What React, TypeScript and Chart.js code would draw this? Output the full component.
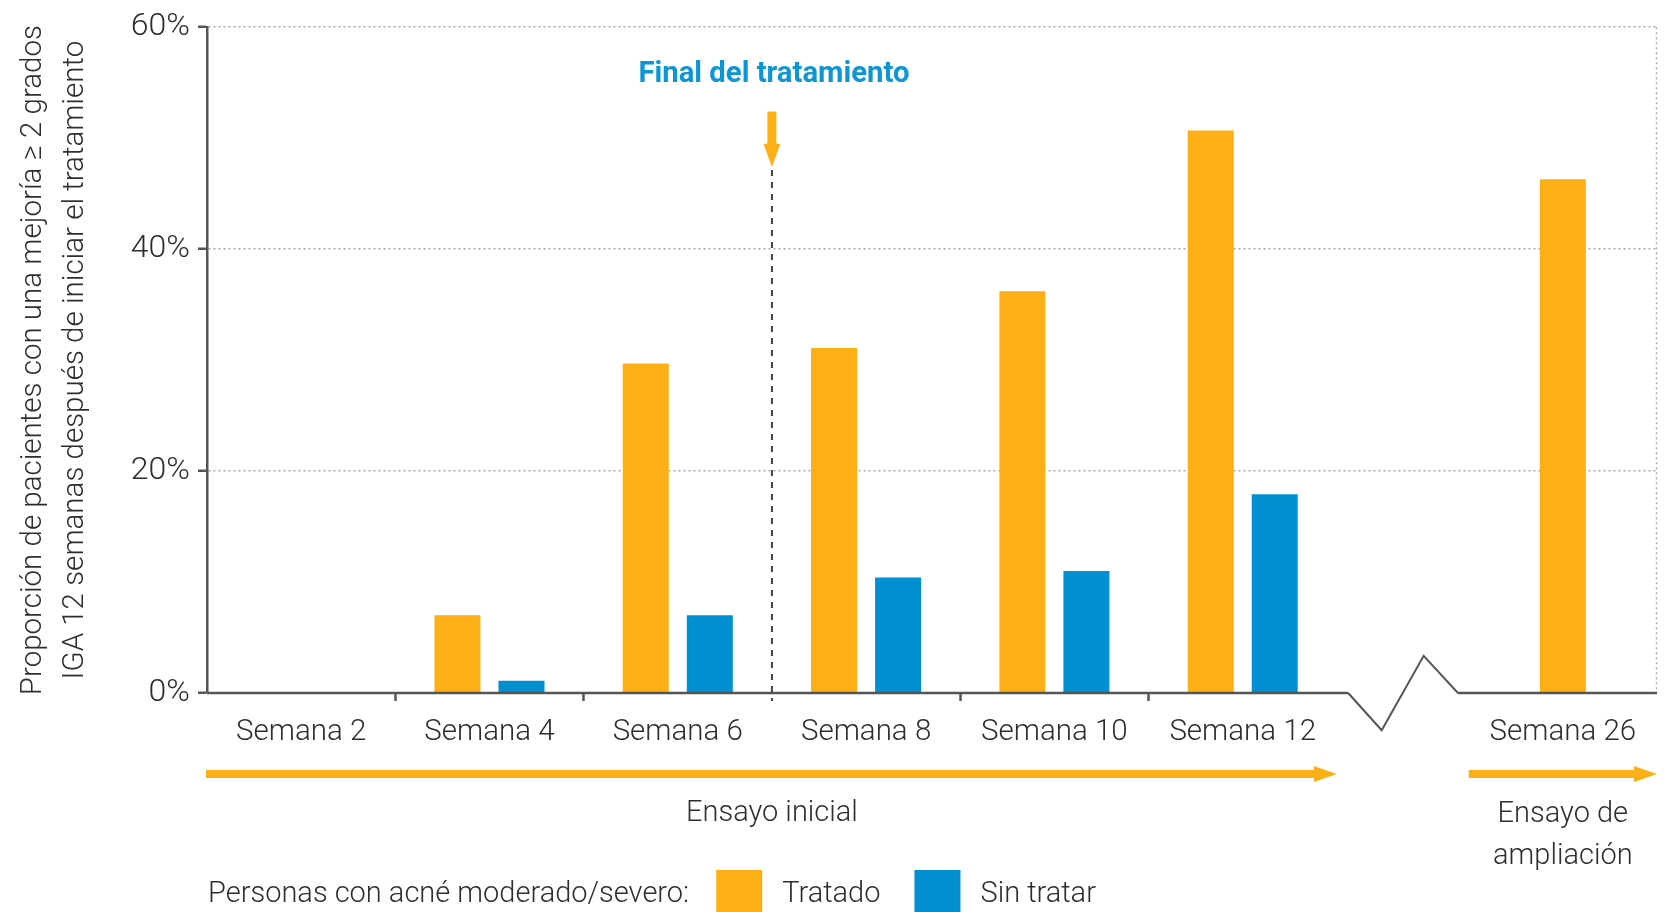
import React, { useEffect, useRef } from "react";
import { Chart, registerables } from "chart.js";

Chart.register(...registerables);

// ---- data ----
const weekLabels = ["Semana 2", "Semana 4", "Semana 6", "Semana 8", "Semana 10", "Semana 12", "Semana 26"];
const weekPositions = [0.5, 1.5, 2.5, 3.5, 4.5, 5.5, 7.2];
const treatedValues = [0, 7.0, 29.7, 31.1, 36.2, 50.7, 46.3];
const untreatedValues: (number | null)[] = [0, 1.1, 7.0, 10.4, 11.0, 17.9, null];
const yTickValues = [0, 20, 40, 60];
const boundaryTicks = [1, 2, 4, 5];
const endOfTreatment = 3;
const initialTrialRange = [0, 6];
const extensionRange = [6.7, 7.7];
const axisBreak = [6.06, 6.238, 6.461, 6.643];
const breakDepth = 3.35;
const seriesNames = ["Tratado", "Sin tratar"];
const yTitle = [
  "Proporción de pacientes con una mejoría ≥ 2 grados",
  "IGA 12 semanas después de iniciar el tratamiento",
];
const legendPrefix = "Personas con acné moderado/severo:";
const markerTitle = "Final del tratamiento";
const initialLabel = "Ensayo inicial";
const extensionLabel = ["Ensayo de", "ampliación"];

// ---- styles ----
const ORANGE = "#FCAF17";
const BLUE = "#008FCF";
const TITLE_BLUE = "#0E95D3";
const AXIS = "#555555";
const GRID = "#AAAAAA";
const TEXT = "#2E2E2E";
const FAMILY = "Roboto, 'Liberation Sans', sans-serif";
const FS = 29;

const decorPlugin = {
  id: "decor",
  afterDatasetsDraw(chart: any) {
    const { ctx, chartArea: ca, scales } = chart;
    const x = scales.x;
    const y = scales.y;
    const y0 = y.getPixelForValue(0);
    ctx.save();

    // right dotted edge
    ctx.strokeStyle = GRID;
    ctx.lineWidth = 1.5;
    ctx.setLineDash([2, 3]);
    ctx.beginPath();
    ctx.moveTo(ca.right - 0.5, ca.top);
    ctx.lineTo(ca.right - 0.5, y0);
    ctx.stroke();

    // baseline with break
    ctx.setLineDash([]);
    ctx.strokeStyle = AXIS;
    ctx.lineWidth = 2.5;
    ctx.beginPath();
    ctx.moveTo(ca.left, y0);
    ctx.lineTo(x.getPixelForValue(axisBreak[0]), y0);
    ctx.stroke();
    ctx.lineWidth = 2;
    ctx.beginPath();
    ctx.moveTo(x.getPixelForValue(axisBreak[0]), y0);
    ctx.lineTo(x.getPixelForValue(axisBreak[1]), y.getPixelForValue(-breakDepth));
    ctx.lineTo(x.getPixelForValue(axisBreak[2]), y.getPixelForValue(breakDepth));
    ctx.lineTo(x.getPixelForValue(axisBreak[3]), y0);
    ctx.stroke();
    ctx.lineWidth = 2.5;
    ctx.beginPath();
    ctx.moveTo(x.getPixelForValue(axisBreak[3]), y0);
    ctx.lineTo(ca.right, y0);
    ctx.stroke();

    // end of treatment dashed line
    const xm = x.getPixelForValue(endOfTreatment);
    const tipY = y.getPixelForValue(47.4);
    ctx.strokeStyle = "#444";
    ctx.lineWidth = 2;
    ctx.setLineDash([6, 6]);
    ctx.beginPath();
    ctx.moveTo(xm, tipY + 3);
    ctx.lineTo(xm, y0 + 8);
    ctx.stroke();
    ctx.setLineDash([]);

    // orange down arrow
    const headY = y.getPixelForValue(49.5);
    const shaftTop = y.getPixelForValue(52.4);
    ctx.fillStyle = ORANGE;
    ctx.fillRect(xm - 4.5, shaftTop, 9, headY - shaftTop + 1);
    ctx.beginPath();
    ctx.moveTo(xm - 8.5, headY);
    ctx.lineTo(xm + 8.5, headY);
    ctx.lineTo(xm, tipY);
    ctx.closePath();
    ctx.fill();

    // marker title
    ctx.fillStyle = TITLE_BLUE;
    ctx.font = `bold 30px ${FAMILY}`;
    ctx.textAlign = "center";
    ctx.textBaseline = "middle";
    ctx.fillText(markerTitle, xm + 2, y.getPixelForValue(55.7), 271);

    // trial arrows
    const ay = y0 + 81;
    const drawArrow = (x1: number, x2: number) => {
      ctx.fillStyle = ORANGE;
      ctx.fillRect(x1, ay - 4, x2 - x1 - 22, 8);
      ctx.beginPath();
      ctx.moveTo(x2 - 23, ay - 8);
      ctx.lineTo(x2, ay);
      ctx.lineTo(x2 - 23, ay + 8);
      ctx.closePath();
      ctx.fill();
    };
    drawArrow(x.getPixelForValue(initialTrialRange[0]) - 1, x.getPixelForValue(initialTrialRange[1]));
    drawArrow(x.getPixelForValue(extensionRange[0]), x.getPixelForValue(extensionRange[1]));

    ctx.fillStyle = TEXT;
    ctx.font = `300 ${FS}px ${FAMILY}`;
    ctx.textAlign = "center";
    ctx.fillText(initialLabel, x.getPixelForValue((initialTrialRange[0] + initialTrialRange[1]) / 2), y0 + 121);
    const xc = x.getPixelForValue(weekPositions[6]);
    ctx.fillText(extensionLabel[0], xc, y0 + 122);
    ctx.fillText(extensionLabel[1], xc, y0 + 164);

    // legend
    const ly = y0 + 202;
    ctx.textAlign = "left";
    let lx = ca.left + 1;
    ctx.fillText(legendPrefix, lx, ly);
    lx += ctx.measureText(legendPrefix).width + 27;
    const colors = [ORANGE, BLUE];
    seriesNames.forEach((name, i) => {
      ctx.fillStyle = colors[i];
      ctx.fillRect(lx, y0 + 177, 46, 60);
      lx += 46 + 20;
      ctx.fillStyle = TEXT;
      ctx.fillText(name, lx, ly);
      lx += ctx.measureText(name).width + 34;
    });

    ctx.restore();
  },
};

export default function App() {
  const ref = useRef<HTMLCanvasElement>(null);
  useEffect(() => {
    const font = { family: FAMILY, size: FS, weight: "300" as any };
    const chart = new Chart(ref.current as HTMLCanvasElement, {
      type: "bar",
      data: {
        datasets: [
          {
            label: seriesNames[0],
            data: weekPositions.map((p, i) => ({ x: p, y: treatedValues[i] })) as any,
            backgroundColor: ORANGE,
          },
          {
            label: seriesNames[1],
            data: weekPositions.map((p, i) => ({ x: p, y: untreatedValues[i] })) as any,
            backgroundColor: BLUE,
          },
        ],
      },
      options: {
        animation: false,
        responsive: false,
        events: [],
        datasets: {
          bar: {
            categoryPercentage: 0.68,
            barPercentage: 0.719,
            maxBarThickness: 46,
            skipNull: true,
            borderWidth: 0,
          },
        },
        layout: { padding: { top: 25, right: 17, left: 0, bottom: 0 } },
        plugins: { legend: { display: false }, tooltip: { enabled: false } },
        scales: {
          x: {
            type: "linear",
            min: 0,
            max: 7.7,
            offset: false,
            position: "bottom",
            weight: 0,
            afterBuildTicks: (s: any) => {
              s.ticks = boundaryTicks.map((v) => ({ value: v }));
            },
            afterFit: (s: any) => {
              s.height = 8;
            },
            ticks: { display: false },
            grid: {
              display: true,
              offset: false,
              drawOnChartArea: false,
              drawTicks: true,
              tickLength: 8,
              tickColor: AXIS,
              tickWidth: 2.5,
              color: "transparent",
            },
            border: { display: false },
          },
          xl: {
            type: "linear",
            min: 0,
            max: 7.7,
            offset: false,
            position: "bottom",
            weight: 1,
            afterBuildTicks: (s: any) => {
              s.ticks = weekPositions.map((v) => ({ value: v }));
            },
            afterFit: (s: any) => {
              s.height = 211;
            },
            ticks: {
              autoSkip: false,
              maxRotation: 0,
              minRotation: 0,
              padding: 14,
              font: { family: FAMILY, size: 29.5, weight: "300" as any },
              color: TEXT,
              callback: (_v: any, i: number) => weekLabels[i],
            },
            grid: { display: false, drawTicks: false },
            border: { display: false },
          },
          y: {
            type: "linear",
            min: 0,
            max: 60,
            position: "left",
            afterBuildTicks: (s: any) => {
              s.ticks = yTickValues.map((v) => ({ value: v }));
            },
            afterFit: (s: any) => {
              s.width = 207;
            },
            ticks: {
              padding: 8,
              font: { family: FAMILY, size: 32, weight: "300" as any },
              color: TEXT,
              callback: (v: any) => `${v}%`,
            },
            grid: {
              color: (c: any) => (c.tick && c.tick.value === 0 ? "transparent" : GRID),
              lineWidth: 1.5,
              tickColor: AXIS,
              tickLength: 9,
              tickWidth: 2.5,
              tickBorderDash: [],
            },
            border: { display: true, color: AXIS, width: 2.5, dash: [2, 3] },
            title: {
              display: true,
              text: yTitle,
              color: TEXT,
              font: { family: FAMILY, size: 29.5, weight: "300" as any, lineHeight: 1.42 },
              padding: { top: 13, bottom: 0 },
            },
          },
        } as any,
      },
      plugins: [decorPlugin],
    });
    return () => chart.destroy();
  }, []);
  return (
    <div style={{ position: "absolute", left: 0, top: 0, width: 1674, height: 912, background: "#fff" }}>
      <canvas ref={ref} width={1674} height={912} style={{ display: "block", width: 1674, height: 912 }} />
    </div>
  );
}
